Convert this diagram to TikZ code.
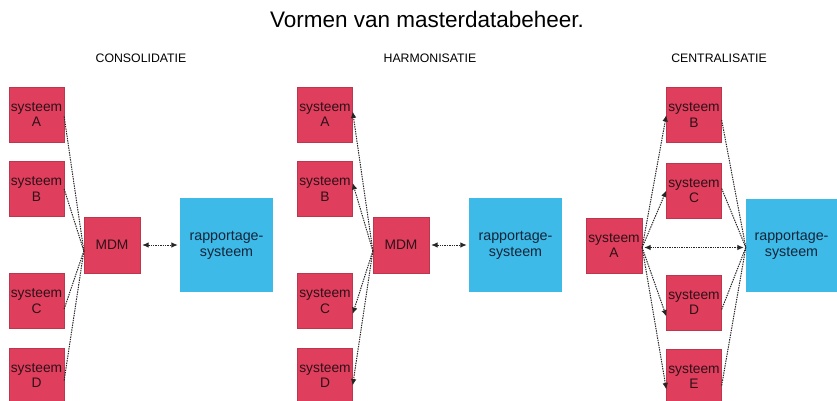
\documentclass[tikz,border=0pt]{standalone}
\usepackage{fontspec}
\setmainfont{Liberation Sans}
\usetikzlibrary{arrows.meta}
\definecolor{sysred}{HTML}{DF3F5C}
\definecolor{repblue}{HTML}{3DBAE7}
\definecolor{redtext}{HTML}{2E1019}
\definecolor{bluetext}{HTML}{13253A}
\tikzset{
  sysbox/.style={fill=sysred, draw=sysred!85!black, line width=0.3pt, minimum width=55pt, minimum height=55pt, inner sep=0pt, align=center, text=redtext, font=\fontsize{13.8}{15.5}\selectfont},
  repbox/.style={fill=repblue, minimum width=93pt, minimum height=94pt, inner sep=0pt, align=center, text=bluetext, font=\fontsize{14.3}{16}\selectfont},
  conn/.style={dash pattern=on 1.4pt off 1pt, line width=1pt, black!85},
  arr/.style={conn, -{Latex[length=6.5pt,width=5.5pt]}},
  darr/.style={conn, {Latex[length=6.5pt,width=5.5pt]}-{Latex[length=6.5pt,width=5.5pt]}, shorten <=2pt, shorten >=2pt},
  sub/.style={font=\fontsize{12.3}{14}\selectfont, inner sep=0pt}
}
\begin{document}
\begin{tikzpicture}[x=1pt,y=-1pt]
\useasboundingbox (0,0) rectangle (837,401);
\fill[white] (0,0) rectangle (837,401);
% titles
\node[font=\fontsize{22.5}{26}\selectfont, inner sep=0pt] (title) at (427,19) {Vormen van masterdatabeheer.};
\node[sub] (t1) at (141,58) {CONSOLIDATIE};
\node[sub] (t2) at (430,58) {HARMONISATIE};
\node[sub] (t3) at (719,58) {CENTRALISATIE};
% ---- consolidatie
\node[sysbox] (cA) at (36.5,114.5) {systeem\\A};
\node[sysbox] (cB) at (36.5,189) {systeem\\B};
\node[sysbox] (cC) at (36.5,301) {systeem\\C};
\node[sysbox] (cD) at (36.5,375.5) {systeem\\D};
\node[sysbox, minimum width=56pt, minimum height=56pt] (cM) at (112,245) {MDM};
\node[repbox] (cR) at (226.5,245) {rapportage-\\systeem};
\coordinate (cP) at ([yshift=-6pt]cM.west);
\draw[conn] ([yshift=-2pt]cA.east) -- (cP);
\draw[conn] (cB.east) -- (cP);
\draw[conn] ([yshift=-8pt]cC.east) -- (cP);
\draw[conn] ([yshift=-5pt]cD.east) -- (cP);
\draw[darr] (cM) -- (cR);
% ---- harmonisatie
\node[sysbox] (hA) at (325,114.5) {systeem\\A};
\node[sysbox] (hB) at (325,189) {systeem\\B};
\node[sysbox] (hC) at (325,301) {systeem\\C};
\node[sysbox] (hD) at (325,375.5) {systeem\\D};
\node[sysbox, minimum width=56pt, minimum height=56pt] (hM) at (401,245) {MDM};
\node[repbox] (hR) at (515.5,245) {rapportage-\\systeem};
\coordinate (hP) at ([yshift=-6pt]hM.west);
\draw[arr] (hP) -- ([yshift=3pt]hA.east);
\draw[arr] (hP) -- ([yshift=6pt]hB.east);
\draw[arr] (hP) -- ([yshift=-13pt]hC.east);
\draw[arr] (hP) -- ([yshift=-10pt]hD.east);
\draw[darr] (hM) -- (hR);
% ---- centralisatie
\node[sysbox, minimum width=56pt] (zA) at (614,245.5) {systeem\\A};
\node[sysbox] (zB) at (694,115) {systeem\\B};
\node[sysbox] (zC) at (694,190.5) {systeem\\C};
\node[sysbox] (zD) at (694,302.5) {systeem\\D};
\node[sysbox] (zE) at (694,376.5) {systeem\\E};
\node[repbox, minimum width=91pt, minimum height=93pt] (zR) at (791.5,245.5) {rapportage-\\systeem};
\coordinate (zP) at ([yshift=-2pt]zA.east);
\coordinate (zQ) at ([yshift=-2pt]zR.west);
\draw[arr] (zP) -- (zB.west);
\draw[arr] (zP) -- (zC.west);
\draw[arr] (zP) -- ([yshift=-14pt]zD.west);
\draw[arr] (zP) -- ([yshift=-13pt]zE.west);
\draw[conn] ([yshift=-5pt]zB.east) -- (zQ);
\draw[conn] ([yshift=2pt]zC.east) -- (zQ);
\draw[conn] ([yshift=-7pt]zD.east) -- (zQ);
\draw[conn] ([yshift=-9pt]zE.east) -- (zQ);
\draw[darr] (zP) -- (zQ);
\end{tikzpicture}
\end{document}
